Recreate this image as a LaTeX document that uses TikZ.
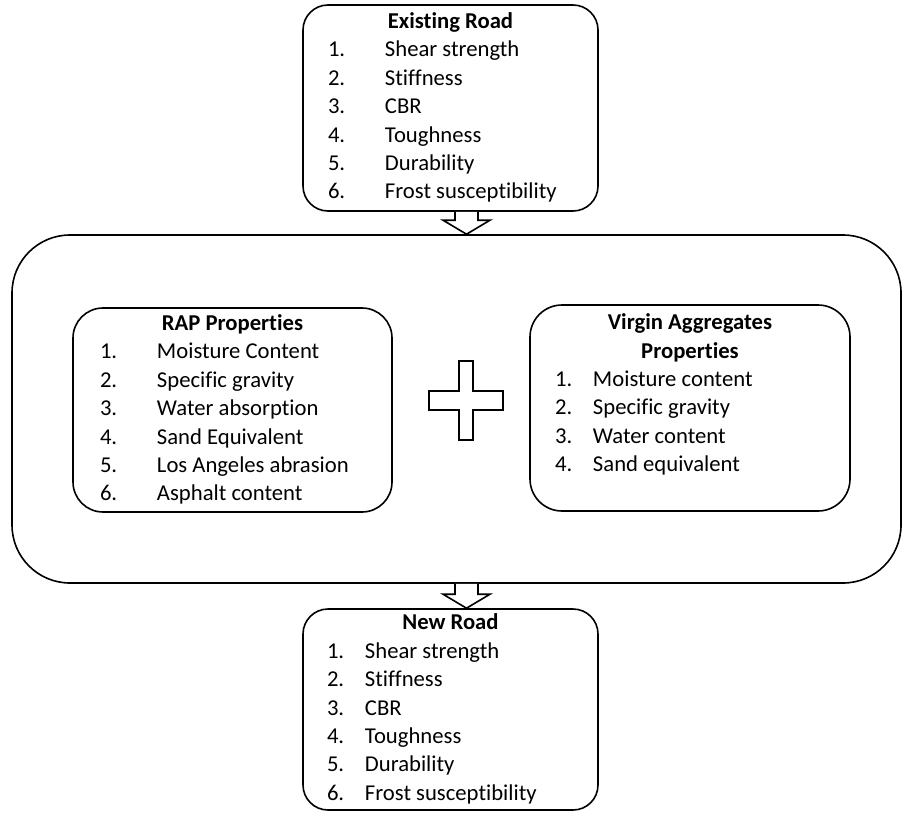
\documentclass[tikz,border=0pt]{standalone}
\usepackage{fontspec}
\setmainfont{Carlito}[Ligatures=NoCommon]
\usetikzlibrary{calc}

\tikzset{
  box/.style={rectangle, draw=black, fill=white, line width=1.2pt, inner sep=0pt},
  blockarrow/.style={draw=black, fill=white, line width=1.2pt, line join=miter},
}

\begin{document}
\begin{tikzpicture}[x=0.75pt,y=-0.75pt]\fontsize{17}{21.3}\selectfont
\renewcommand{\arraystretch}{1}
\useasboundingbox (0,0) rectangle (902,817);

\node[box, rounded corners=43.5pt, minimum width=666.75pt, minimum height=261pt] (mix) at (456.5,409){};

\node[box, rounded corners=18.75pt, minimum width=221.25pt, minimum height=154.5pt] (exist) at (450.5,108){\begin{tabular}{@{}p{42.75pt}@{}p{141pt}@{}}
\multicolumn{2}{@{}c@{}}{\bf Existing Road}\\
1. & Shear strength\\
2. & Stiffness\\
3. & CBR\\
4. & Toughness\\
5. & Durability\\
6. & Frost susceptibility
\end{tabular}};

\node[box, rounded corners=22.5pt, minimum width=239.25pt, minimum height=153pt] (rap) at (232.5,410){\begin{tabular}{@{}p{42.75pt}@{}p{156pt}@{}}
\multicolumn{2}{@{}c@{}}{\bf RAP Properties}\\
1. & Moisture Content\\
2. & Specific gravity\\
3. & Water absorption\\
4. & Sand Equivalent\\
5. & Los Angeles abrasion\\
6. & Asphalt content
\end{tabular}};

\node[box, rounded corners=24pt, minimum width=240pt, minimum height=154.5pt] (virgin) at (690,408){\raisebox{9.75pt}[\height][\depth]{\begin{tabular}{@{}p{28.5pt}@{}p{174pt}@{}}
\multicolumn{2}{@{}c@{}}{\bf Virgin Aggregates}\\
\multicolumn{2}{@{}c@{}}{\bf Properties}\\
1. & Moisture content\\
2. & Specific gravity\\
3. & Water content\\
4. & Sand equivalent
\end{tabular}}};

\node[box, rounded corners=18.75pt, minimum width=221.25pt, minimum height=150.75pt] (newroad) at (450.5,709.5){\begin{tabular}{@{}p{28.5pt}@{}p{156.75pt}@{}}
\multicolumn{2}{@{}c@{}}{\bf New Road}\\
1. & Shear strength\\
2. & Stiffness\\
3. & CBR\\
4. & Toughness\\
5. & Durability\\
6. & Frost susceptibility
\end{tabular}};

% plus sign between the two property boxes
\coordinate (plus) at (466,400.5);
\draw[blockarrow, shift={(plus)}, x=1pt, y=1pt] (5.25,29.625) -- (5.25,7.125) -- (27.75,7.125) -- (27.75,-7.125) -- (5.25,-7.125) -- (5.25,-29.625) -- (-5.25,-29.625) -- (-5.25,-7.125) -- (-27.75,-7.125) -- (-27.75,7.125) -- (-5.25,7.125) -- (-5.25,29.625) -- cycle;

% block arrows
\coordinate (a1) at ($(exist.south)+(12pt,0)$);
\coordinate (a2) at (a1 |- mix.south);
\draw[blockarrow] ($(a1)+(-8.625pt,0)$) -- ($(a1 |- mix.north)+(-8.625pt,10.5pt)$) -- ++(-9pt,0) -- (a1 |- mix.north) -- ++(17.625pt,10.5pt) -- ++(-9pt,0) -- ($(a1)+(8.625pt,0)$);
\draw[blockarrow] ($(a2)+(-8.625pt,0)$) -- ($(a2 |- newroad.north)+(-8.625pt,10.5pt)$) -- ++(-9pt,0) -- (a2 |- newroad.north) -- ++(17.625pt,10.5pt) -- ++(-9pt,0) -- ($(a2)+(8.625pt,0)$);

\end{tikzpicture}
\end{document}
